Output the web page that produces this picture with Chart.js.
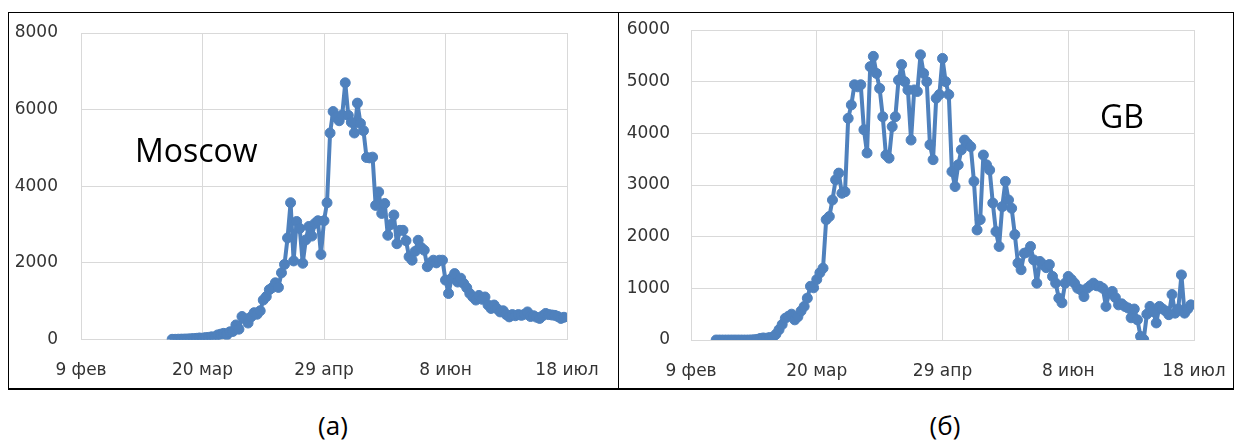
<!DOCTYPE html>
<html><head><meta charset="utf-8">
<script src="https://cdn.jsdelivr.net/npm/chart.js@4.4.1/dist/chart.umd.min.js"></script>
<style>
body{margin:0;background:#fff;width:1236px;height:441px;position:relative;overflow:hidden;font-family:"Open Sans",sans-serif;}
#frame{position:absolute;left:8px;top:12px;width:1226px;height:378px;border:1px solid #000;border-bottom-width:2px;box-sizing:border-box;}
#divider{position:absolute;left:618px;top:12px;width:1px;height:377px;background:#000;}
canvas{position:absolute;}
#cA{left:9px;top:13px;}
#cB{left:620px;top:13px;}
.lbl{position:absolute;color:#000;font-size:32px;line-height:1;white-space:nowrap;}
.cap{position:absolute;font-size:26px;line-height:1;transform:translateX(-50%);color:#000;}
</style></head>
<body>
<div id="frame"></div>
<div id="divider"></div>
<canvas id="cA" width="609" height="375"></canvas>
<canvas id="cB" width="614" height="375"></canvas>
<div class="lbl" style="left:135px;top:134px;">Moscow</div>
<div class="lbl" style="left:1100px;top:100px;">GB</div>
<div class="cap" style="left:333px;top:412px;">(а)</div>
<div class="cap" style="left:945px;top:412px;">(б)</div>
<script>
// x axis: days counted from 9 Feb 2020
const tickLabels = ['9 фев', '20 мар', '29 апр', '8 июн', '18 июл'];
const tickStep = 40;

const moscowStartDay = 30;
const moscowValues = [
  5, 5, 8, 10, 12, 15, 20, 25, 30, 40,
  35, 50, 55, 70, 60, 120, 140, 160, 120, 200,
  210, 380, 270, 600, 540, 430, 590, 700, 660, 750,
  1030, 1120, 1300, 1355, 1480, 1360, 1740, 1960, 2650, 3570,
  2050, 3080, 2900, 1990, 2600, 2950, 2700, 3030, 3100, 2220,
  3100, 3570, 5390, 5950, 5800, 5710, 5860, 6700, 5850, 5670,
  5390, 6170, 5640, 5450, 4750, 4740, 4760, 3500, 3850, 3290,
  3550, 2720, 3000, 3250, 2500, 2850, 2850, 2580, 2160, 2070,
  2300, 2590, 2400, 2330, 1900, 2000, 2070, 2000, 2070, 2070,
  1550, 1200, 1600, 1720, 1500, 1600, 1460, 1350, 1200, 1110,
  1030, 1150, 1050, 1110, 900, 810, 900, 800, 720, 750,
  650, 590, 650, 620, 650, 630, 660, 720, 600, 620,
  580, 550, 620, 680, 650, 640, 630, 600, 550, 580
];

const gbStartDay = 8;
const gbValues = [
  0, 0, 0, 0, 0, 0, 0, 0, 0, 0,
  0, 2, 5, 12, 30, 40, 35, 48, 50, 110,
  200, 300, 420, 460, 500, 390, 450, 560, 650, 810,
  1040, 1010, 1170, 1300, 1390, 2330, 2390, 2710, 3100, 3230,
  2840, 2870, 4290, 4550, 4940, 4900, 4940, 4070, 3620, 5290,
  5490, 5160, 4870, 4320, 3580, 3520, 4130, 4320, 5030, 5330,
  5000, 4840, 3870, 4840, 4810, 5520, 5160, 5000, 3780, 3490,
  4680, 4750, 5450, 5000, 4750, 3260, 2970, 3390, 3680, 3870,
  3800, 3740, 3070, 2130, 2330, 3580, 3390, 3290, 2650, 2100,
  1810, 2580, 3070, 2710, 2550, 2040, 1490, 1360, 1680, 1700,
  1810, 1550, 1100, 1520, 1460, 1400, 1460, 1230, 1100, 810,
  720, 1100, 1230, 1170, 1100, 1000, 970, 840, 1000, 1050,
  1100, 1050, 1040, 1000, 650, 910, 940, 820, 680, 700,
  650, 620, 430, 600, 390, 70, 10, 500, 650, 550,
  330, 650, 600, 560, 490, 880, 520, 600, 1260, 520,
  600, 680
];

const moscowYMax = 8000, moscowYStep = 2000;
const gbYMax = 6000, gbYStep = 1000;

const BLUE = '#4f81bd';
const GRID = '#d9d9d9';
const TICK_FONT = {family: '"DejaVu Sans", sans-serif', size: 17};
const TICK_COLOR = '#333333';

function build(id, start, values, yMax, yStep, yW, xH, pad, yPad) {
  const pts = values.map((v, i) => ({x: start + i, y: v}));
  return new Chart(document.getElementById(id), {
    type: 'line',
    data: {datasets: [{
      data: pts, borderColor: BLUE, backgroundColor: BLUE, borderWidth: 4,
      borderJoinStyle: 'round', borderCapStyle: 'round',
      pointRadius: 5, pointBackgroundColor: BLUE, pointBorderColor: BLUE,
      pointBorderWidth: 1, tension: 0, fill: false
    }]},
    options: {
      responsive: false, animation: false, devicePixelRatio: 1,
      layout: {padding: pad, autoPadding: false},
      plugins: {legend: {display: false}, tooltip: {enabled: false}},
      scales: {
        x: {
          type: 'linear', min: 0, max: tickStep * (tickLabels.length - 1),
          afterBuildTicks: s => { s.ticks = tickLabels.map((_, i) => ({value: i * tickStep})); },
          ticks: {callback: v => tickLabels[Math.round(v / tickStep)], maxRotation: 0, autoSkip: false,
                  padding: 21, color: TICK_COLOR, font: TICK_FONT},
          grid: {color: GRID, drawTicks: false, lineWidth: 1},
          border: {color: GRID},
          afterFit: s => { s.height = xH; s.paddingLeft = 0; s.paddingRight = 0; }
        },
        y: {
          min: 0, max: yMax,
          ticks: {stepSize: yStep, padding: yPad, color: TICK_COLOR, font: TICK_FONT,
                  callback: v => String(v)},
          grid: {color: GRID, drawTicks: false, lineWidth: 1},
          border: {color: GRID},
          afterFit: s => { s.width = yW; s.paddingTop = 0; s.paddingBottom = 0; }
        }
      }
    }
  });
}

build('cA', moscowStartDay, moscowValues, moscowYMax, moscowYStep, 72, 48, {top: 20, right: 51, bottom: 0.5, left: 0}, 23);
build('cB', gbStartDay, gbValues, gbYMax, gbYStep, 71, 47.5, {top: 17, right: 40, bottom: 0.5, left: 0}, 21);
</script>
</body></html>
